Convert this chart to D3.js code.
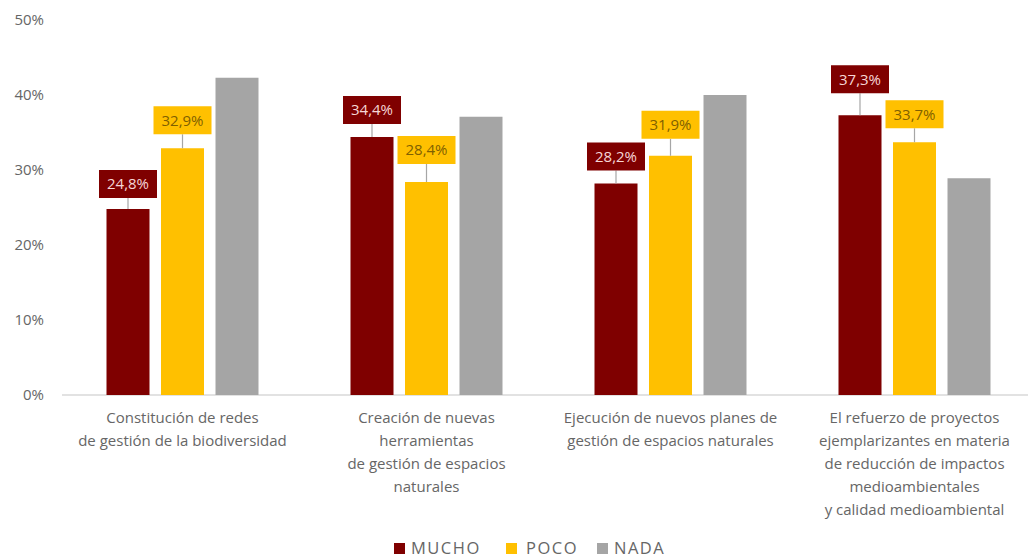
<!DOCTYPE html>
<html><head><meta charset="utf-8">
<script src="https://cdn.jsdelivr.net/npm/d3@7"></script>
<style>body{margin:0;background:#fff}svg{display:block}</style>
</head><body>
<svg id="c" width="1028" height="560"></svg>
<script>
const categories = [
  ["Constitución de redes", "de gestión de la biodiversidad"],
  ["Creación de nuevas", "herramientas", "de gestión de espacios", "naturales"],
  ["Ejecución de nuevos planes de", "gestión de espacios naturales"],
  ["El refuerzo de proyectos", "ejemplarizantes en materia", "de reducción de impactos", "medioambientales", "y calidad medioambiental"]
];
const seriesNames = ["MUCHO", "POCO", "NADA"];
const mucho = [24.8, 34.4, 28.2, 37.3];
const poco = [32.9, 28.4, 31.9, 33.7];
const nada = [42.3, 37.1, 40.0, 28.9];
const yTicks = [0, 10, 20, 30, 40, 50];
const labelledSeries = [0, 1];
const labelGaps = [[11, 13, 13, 22], [14, 18, 17, 14]];

const colors = ["#7f0000", "#ffc000", "#a5a5a5"];
const labelText = ["#f6d6d6", "#7f6000"];
const values = [mucho, poco, nada];

const svg = d3.select("#c");
const font = "'Open Sans', 'Liberation Sans', sans-serif";
const y = d3.scaleLinear().domain([0, 50]).range([395, 20]);
const x0 = d3.scaleBand().domain(d3.range(4)).range([60.5, 1036.5]);
const groupW = 152;
const x1 = d3.scaleBand().domain(d3.range(3)).range([0, groupW]).paddingInner(0.211);
const groupOffset = (x0.bandwidth() - groupW) / 2;

// y axis labels
svg.append("g").selectAll("text").data(yTicks).join("text")
  .attr("x", 44).attr("y", d => y(d)).attr("dy", "0.35em")
  .attr("text-anchor", "end").attr("font-family", font).attr("font-size", 15)
  .attr("fill", "#666666").text(d => d + "%");

// baseline
svg.append("line").attr("x1", 62).attr("x2", 1028).attr("y1", y(0)).attr("y2", y(0))
  .attr("stroke", "#d9d9d9").attr("stroke-width", 1.5);

// bars
values.forEach((arr, s) => {
  svg.append("g").selectAll("rect").data(arr).join("rect")
    .attr("x", (d, i) => x0(i) + groupOffset + x1(s))
    .attr("width", x1.bandwidth())
    .attr("y", d => y(d))
    .attr("height", d => y(0) - y(d))
    .attr("fill", colors[s]);
});

// data labels
labelledSeries.forEach(s => {
  const g = svg.append("g");
  values[s].forEach((d, i) => {
    const cx = x0(i) + groupOffset + x1(s) + x1.bandwidth() / 2;
    const top = y(d);
    const bottom = top - labelGaps[s][i];
    const bh = 28, bw = 58;
    g.append("line").attr("x1", cx).attr("x2", cx).attr("y1", bottom).attr("y2", top)
      .attr("stroke", "#a6a6a6").attr("stroke-width", 1.2);
    g.append("rect").attr("x", cx - bw / 2).attr("y", bottom - bh).attr("width", bw).attr("height", bh)
      .attr("fill", colors[s]);
    g.append("text").attr("x", cx).attr("y", bottom - bh / 2).attr("dy", "0.36em")
      .attr("text-anchor", "middle").attr("font-family", font).attr("font-size", 15)
      .attr("fill", labelText[s]).text(d.toFixed(1).replace(".", ",") + "%");
  });
});

// category labels
categories.forEach((lines, i) => {
  const t = svg.append("text").attr("text-anchor", "middle").attr("font-family", font)
    .attr("font-size", 15).attr("fill", "#666666");
  lines.forEach((l, k) => {
    t.append("tspan").attr("x", x0(i) + x0.bandwidth() / 2).attr("y", 423 + k * 23).text(l);
  });
});

// legend
const legendX = [394, 506, 597];
const lg = svg.append("g");
seriesNames.forEach((n, s) => {
  lg.append("rect").attr("x", legendX[s]).attr("y", 543).attr("width", 11).attr("height", 11).attr("fill", colors[s]);
  lg.append("text").attr("x", legendX[s] + (s === 1 ? 20 : 17)).attr("y", 554).attr("font-family", font)
    .attr("font-size", 16.5).attr("letter-spacing", 1.5).attr("fill", "#666666").text(n);
});
</script>
</body></html>
